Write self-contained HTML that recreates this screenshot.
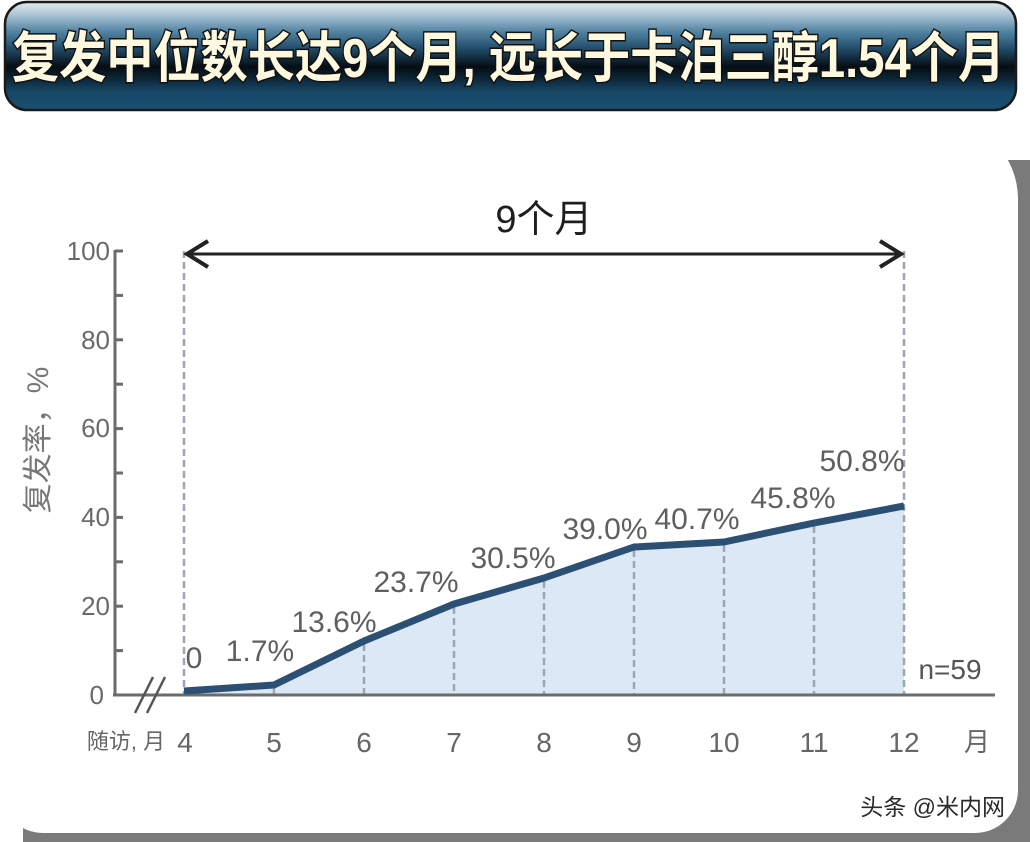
<!DOCTYPE html>
<html><head><meta charset="utf-8">
<style>
html,body{margin:0;padding:0;background:#fff;}
svg{display:block;}
text{font-family:"Liberation Sans","Noto Sans CJK SC",sans-serif;}
</style></head>
<body>
<svg width="1030" height="842" viewBox="0 0 1030 842" xmlns="http://www.w3.org/2000/svg">
<defs>
<linearGradient id="hg" x1="0" y1="0" x2="0" y2="1">
<stop offset="0" stop-color="#e4ecf0"/>
<stop offset="0.12" stop-color="#a9c4d4"/>
<stop offset="0.27" stop-color="#5585a4"/>
<stop offset="0.42" stop-color="#24506e"/>
<stop offset="0.6" stop-color="#050d14"/>
<stop offset="0.7" stop-color="#0b2333"/>
<stop offset="0.83" stop-color="#174868"/>
<stop offset="1" stop-color="#1a4f70"/>
</linearGradient>
</defs>
<rect width="1030" height="842" fill="#fff"/>
<!-- card shadow -->
<rect x="23" y="160" width="1030" height="700" fill="#7a7a7a"/>
<path d="M0,119 H938 A80,80 0 0 1 1018,199 V790 A43,43 0 0 1 975,833 H43 A43,43 0 0 1 0,790 Z" fill="#fff"/>
<!-- header -->
<rect x="5" y="2" width="1011" height="108" rx="22" ry="22" fill="url(#hg)" stroke="#1a1a1a" stroke-width="2.5"/>
<text x="12" y="77" font-size="55" font-weight="bold" fill="#fdf8e0" stroke="#111" stroke-width="3" paint-order="stroke fill" textLength="993" lengthAdjust="spacingAndGlyphs">复发中位数长达9个月, 远长于卡泊三醇1.54个月</text>

<!-- fill area -->
<polygon points="184,695 184,691 274,685 364,641 454,604 544,578 634,547 724,542 814,523 904,506 904,695" fill="#dce8f5"/>

<!-- dashed verticals -->
<g stroke="#9ba6b2" stroke-width="2.5" stroke-dasharray="7 4" fill="none">
<line x1="184" y1="251" x2="184" y2="695"/>
<line x1="904" y1="251" x2="904" y2="695"/>
<line x1="274" y1="688" x2="274" y2="695"/>
<line x1="364" y1="644" x2="364" y2="695"/>
<line x1="454" y1="607" x2="454" y2="695"/>
<line x1="544" y1="581" x2="544" y2="695"/>
<line x1="634" y1="550" x2="634" y2="695"/>
<line x1="724" y1="545" x2="724" y2="695"/>
<line x1="814" y1="526" x2="814" y2="695"/>
</g>

<!-- axes -->
<g stroke="#6b6b6b" stroke-width="3" fill="none">
<line x1="115" y1="250" x2="115" y2="696"/>
<line x1="113" y1="695" x2="995" y2="695"/>
<line x1="115" y1="251" x2="123" y2="251"/>
<line x1="115" y1="295.4" x2="123" y2="295.4"/>
<line x1="115" y1="339.8" x2="123" y2="339.8"/>
<line x1="115" y1="384.2" x2="123" y2="384.2"/>
<line x1="115" y1="428.6" x2="123" y2="428.6"/>
<line x1="115" y1="473" x2="123" y2="473"/>
<line x1="115" y1="517.4" x2="123" y2="517.4"/>
<line x1="115" y1="561.8" x2="123" y2="561.8"/>
<line x1="115" y1="606.2" x2="123" y2="606.2"/>
<line x1="115" y1="650.6" x2="123" y2="650.6"/>
</g>
<!-- break marks -->
<g stroke="#555" stroke-width="2.5">
<line x1="135" y1="713" x2="153" y2="677"/>
<line x1="147" y1="713" x2="165" y2="677"/>
</g>

<!-- y tick labels -->
<g font-size="26" fill="#6a6a6a" text-anchor="end">
<text x="110" y="260">100</text>
<text x="110" y="349">80</text>
<text x="110" y="437">60</text>
<text x="110" y="526">40</text>
<text x="110" y="615">20</text>
<text x="104" y="704">0</text>
</g>
<text transform="translate(48,440) rotate(-90)" font-size="30" fill="#777" text-anchor="middle">复发率，%</text>

<!-- x labels -->
<g font-size="28" fill="#666" text-anchor="middle">
<text x="185" y="752">4</text>
<text x="274" y="752">5</text>
<text x="364" y="752">6</text>
<text x="454" y="752">7</text>
<text x="544" y="752">8</text>
<text x="634" y="752">9</text>
<text x="724" y="752">10</text>
<text x="814" y="752">11</text>
<text x="904" y="752">12</text>
</g>
<text x="977" y="751" font-size="26" fill="#666" text-anchor="middle">月</text>
<text x="126" y="749" font-size="22" fill="#666" text-anchor="middle">随访, 月</text>

<!-- data line -->
<polyline points="184,691 274,685 364,641 454,604 544,578 634,547 724,542 814,523 904,506" fill="none" stroke="#2c4f74" stroke-width="7" stroke-linejoin="round"/>

<!-- data labels -->
<g font-size="30" fill="#5f5f5f" text-anchor="middle">
<text x="194" y="668">0</text>
<text x="260" y="661">1.7%</text>
<text x="334" y="632">13.6%</text>
<text x="416" y="592">23.7%</text>
<text x="513" y="568">30.5%</text>
<text x="605" y="539">39.0%</text>
<text x="697" y="529">40.7%</text>
<text x="793" y="508">45.8%</text>
<text x="862" y="471">50.8%</text>
</g>
<text x="950" y="679" font-size="28" fill="#555" text-anchor="middle">n=59</text>

<!-- arrow -->
<g stroke="#222" fill="none">
<line x1="187" y1="254" x2="901" y2="254" stroke-width="3"/>
<polyline points="208,241 187,254 208,267" stroke-width="4"/>
<polyline points="880,241 901,254 880,267" stroke-width="4"/>
</g>
<text x="544" y="232" font-size="38" fill="#1e1e1e" text-anchor="middle">9个月</text>

<!-- watermark -->
<text x="1005" y="815" font-size="23" fill="#2a2a2a" stroke="#fff" stroke-width="2" paint-order="stroke fill" text-anchor="end">头条 @米内网</text>
</svg>
</body></html>
